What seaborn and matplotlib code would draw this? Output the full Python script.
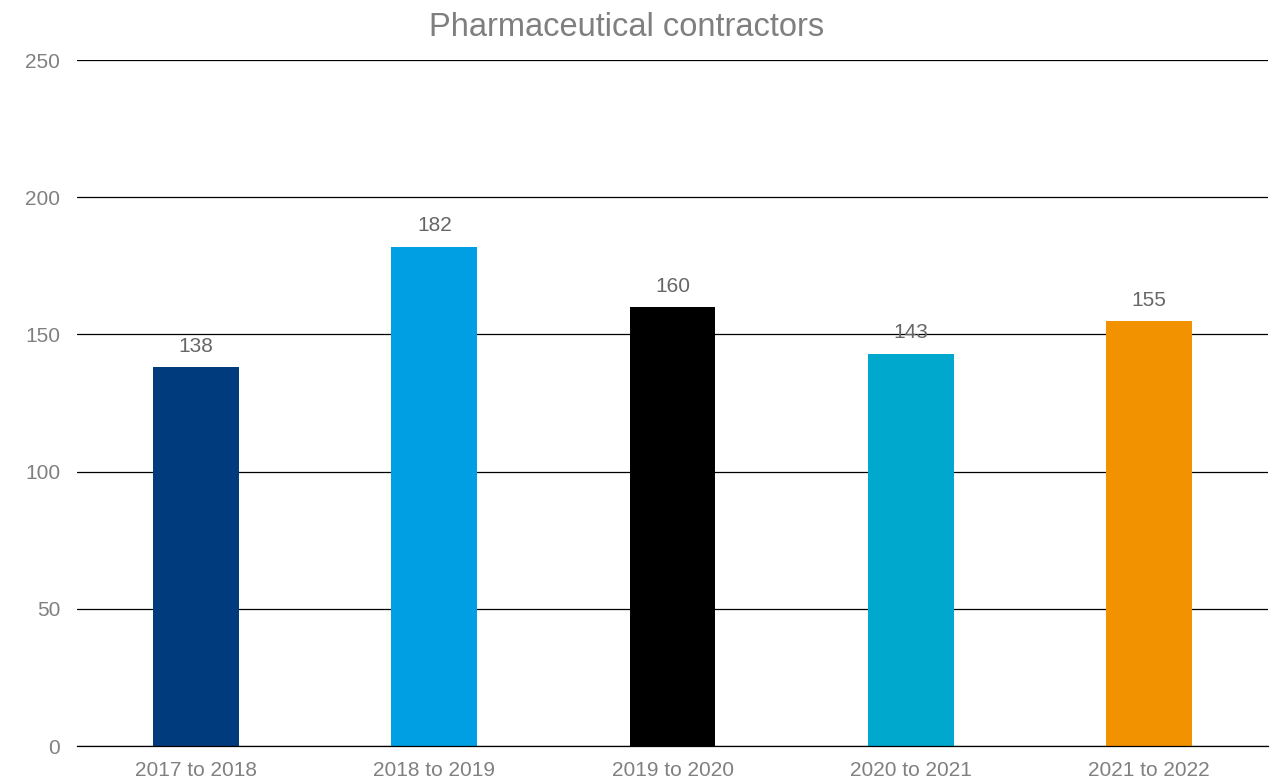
import matplotlib
matplotlib.use("Agg")
import matplotlib.pyplot as plt
import seaborn as sns
import pandas as pd

categories = ["2017 to 2018", "2018 to 2019", "2019 to 2020", "2020 to 2021", "2021 to 2022"]
values = [138, 182, 160, 143, 155]
colors = ["#003B7E", "#009EE2", "#000000", "#00A8CE", "#F39200"]
yticks = [0, 50, 100, 150, 200, 250]

sns.set_theme(style="white")
plt.rcParams['font.family'] = ['Liberation Sans', 'DejaVu Sans']

df = pd.DataFrame({"period": categories, "value": values})

fig = plt.figure(figsize=(12.78, 7.81), dpi=100)
ax = fig.add_axes([77/1278, 1 - 746/781, (1268-77)/1278, (746-60)/781])

sns.barplot(data=df, x="period", y="value", hue="period", palette=colors,
            width=0.36, legend=False, ax=ax, saturation=1, linewidth=0)

ax.set_ylim(0, 250)
ax.set_xlim(-0.5, 4.5)
ax.set_yticks(yticks)
ax.yaxis.grid(True, color="black", linewidth=0.9)
ax.set_axisbelow(True)
for s in ["top", "right", "left"]:
    ax.spines[s].set_visible(False)
ax.spines["bottom"].set_color("black")
ax.spines["bottom"].set_linewidth(0.9)
ax.tick_params(axis="both", colors="#808080", labelsize=15, length=0)
ax.tick_params(axis="y", pad=12)
ax.tick_params(axis="x", pad=11)
ax.set_xlabel("")
ax.set_ylabel("")
for lbl in ax.get_xticklabels() + ax.get_yticklabels():
    lbl.set_color("#808080")

for i, v in enumerate(values):
    ax.annotate(str(v), (i, v), xytext=(0, 8), textcoords="offset points",
                ha="center", va="bottom", fontsize=15, color="#666666")

fig.text(627/1278, 1 - 28/781, "Pharmaceutical contractors",
         ha="center", va="center", fontsize=23.5, color="#7F7F7F")

fig.savefig("out.png", dpi=100)
